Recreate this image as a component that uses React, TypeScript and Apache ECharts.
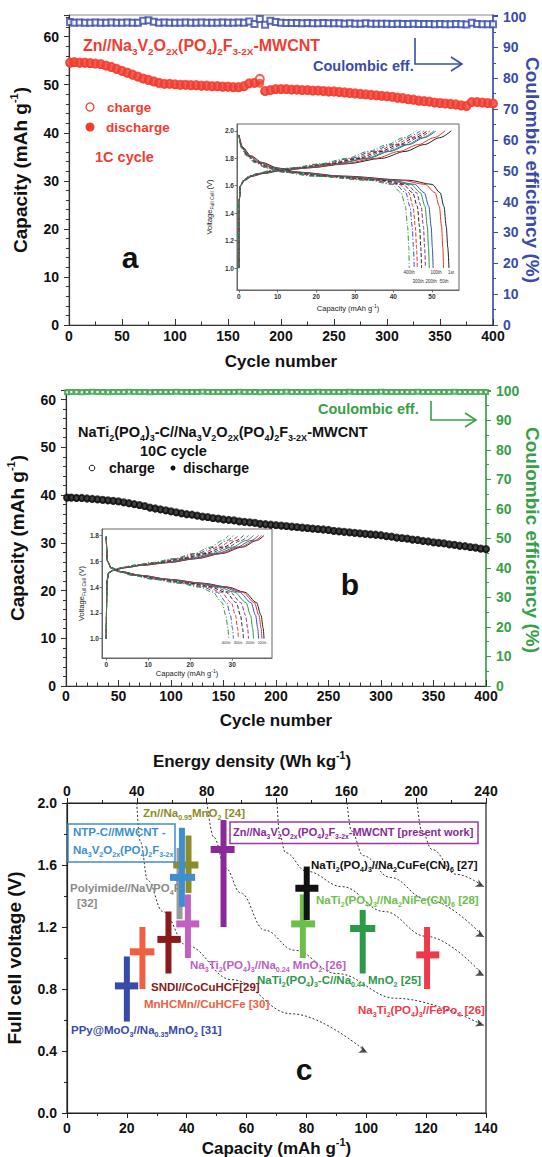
import React, { useEffect, useRef } from 'react';
import * as echarts from 'echarts';

const FONT = "'Liberation Sans', Arial, Helvetica, sans-serif";
const RED = '#f23c30';
const BLUE = '#3a4ca8';
const GREEN = '#38a048';
const AXC = '#333';

// ---------- Panel a & b : cycle numbers ----------
const CYCLES = [1,5,10,15,20,25,30,35,40,45,50,55,60,65,70,75,80,85,90,95,100,105,110,115,120,125,130,135,140,145,150,155,160,165,170,175,180,185,190,195,200,205,210,215,220,225,230,235,240,245,250,255,260,265,270,275,280,285,290,295,300,305,310,315,320,325,330,335,340,345,350,355,360,365,370,375,380,385,390,395,400];

const A_CHARGE = [54.6,54.7,54.6,54.6,54.5,54.4,54.3,54.0,53.7,53.3,
  52.9,52.5,52.1,51.7,51.3,51.0,50.7,50.4,50.2,50.2,
  50.1,50.0,50.0,49.9,49.9,49.8,49.8,49.7,49.7,49.6,
  49.6,49.5,49.5,49.7,50.3,50.4,51.2,48.7,48.9,49.1,
  49.1,49.1,49.0,49.0,48.9,48.9,48.8,48.8,48.7,48.6,
  48.6,48.5,48.4,48.3,48.2,48.1,48.0,47.9,47.8,47.7,
  47.6,47.5,47.3,47.2,47.0,46.9,46.7,46.6,46.5,46.3,
  46.2,46.1,46.0,45.9,45.7,45.6,46.4,46.4,46.3,46.2,
  46.1];
const A_DISCHARGE = [54.5,54.6,54.5,54.5,54.4,54.3,54.2,53.9,53.6,53.2,
  52.8,52.4,52.0,51.6,51.2,50.9,50.6,50.3,50.1,50.1,
  50.0,49.9,49.9,49.8,49.8,49.7,49.7,49.6,49.6,49.5,
  49.5,49.4,49.4,49.6,50.2,50.3,50.3,48.6,48.8,49.0,
  49.0,49.0,48.9,48.9,48.8,48.8,48.7,48.7,48.6,48.5,
  48.5,48.4,48.3,48.2,48.1,48.0,47.9,47.8,47.7,47.6,
  47.5,47.4,47.2,47.1,46.9,46.8,46.6,46.5,46.4,46.2,
  46.1,46.0,45.9,45.8,45.6,45.5,46.3,46.3,46.2,46.1,
  46.0];
const A_CE = [98.2,98.0,98.1,98.0,98.0,98.1,98.0,98.0,98.1,98.0,
  98.0,98.1,98.0,98.0,98.6,98.8,98.3,98.0,98.1,98.0,
  98.0,98.0,98.1,98.0,98.0,98.1,98.0,98.0,98.0,98.1,
  98.0,98.0,98.1,98.0,98.4,97.6,99.2,97.3,98.6,98.2,
  98.0,97.9,97.9,97.9,97.8,97.9,97.8,97.8,97.9,97.8,
  97.8,97.8,97.7,97.8,97.7,97.7,97.8,97.7,97.7,97.7,
  97.7,97.6,97.7,97.6,97.6,97.7,97.6,97.6,97.6,97.5,
  97.6,97.5,97.5,97.6,97.5,97.4,98.0,97.6,97.5,97.5,
  97.5];

const B_CHARGE = [39.5,39.5,39.4,39.4,39.3,39.2,39.1,39.0,38.9,38.8,
  38.7,38.5,38.3,38.1,37.9,37.7,37.4,37.2,37.0,36.8,
  36.6,36.4,36.2,36.0,35.9,35.7,35.5,35.4,35.2,35.1,
  34.9,34.8,34.7,34.5,34.4,34.3,34.2,34.0,33.9,33.8,
  33.7,33.6,33.5,33.4,33.3,33.2,33.1,33.0,32.9,32.8,
  32.7,32.5,32.4,32.3,32.2,32.1,32.0,31.9,31.8,31.7,
  31.6,31.4,31.3,31.1,31.0,30.9,30.7,30.6,30.4,30.3,
  30.1,30.0,29.9,29.7,29.6,29.4,29.3,29.1,29.0,28.8,
  28.7];
const B_DISCHARGE = [39.4,39.4,39.3,39.3,39.2,39.1,39.0,38.9,38.8,38.7,
  38.6,38.4,38.2,38.0,37.8,37.6,37.3,37.1,36.9,36.7,
  36.5,36.3,36.1,35.9,35.8,35.6,35.4,35.3,35.1,35.0,
  34.8,34.7,34.6,34.4,34.3,34.2,34.1,33.9,33.8,33.7,
  33.6,33.5,33.4,33.3,33.2,33.1,33.0,32.9,32.8,32.7,
  32.6,32.4,32.3,32.2,32.1,32.0,31.9,31.8,31.7,31.6,
  31.5,31.3,31.2,31.0,30.9,30.8,30.6,30.5,30.3,30.2,
  30.0,29.9,29.8,29.6,29.5,29.3,29.2,29.0,28.9,28.7,
  28.6];
const B_CE = [99.5,99.6,99.6,99.5,99.6,99.7,99.6,99.6,99.5,99.6,
  99.6,99.6,99.7,99.6,99.6,99.6,99.5,99.6,99.6,99.6,
  99.6,99.7,99.6,99.6,99.6,99.6,99.7,99.6,99.6,99.6,
  99.6,99.6,99.6,99.7,99.6,99.6,99.6,99.5,99.6,99.6,
  99.6,99.6,99.7,99.6,99.6,99.6,99.6,99.6,99.7,99.6,
  99.6,99.6,99.6,99.6,99.7,99.6,99.6,99.6,99.6,99.6,
  99.7,99.6,99.6,99.6,99.6,99.6,99.6,99.7,99.6,99.6,
  99.6,99.6,99.6,99.6,99.7,99.6,99.6,99.6,99.6,99.6,
  99.6];

// ---------- Insets (capacity reached at each voltage level) ----------
const INSET_COLORS = ['#222','#e8332a','#3050c0','#2a9a3a','#8a2a9a','#222','#e8332a','#3050c0','#2a9a3a'];
const INSET_DASH: any[] = ['solid','solid','solid','solid',[4,2],[4,2],[4,2],[5,2,1,2],[5,2,1,2]];

const VC_A = [1.00,1.50,1.60,1.64,1.67,1.69,1.71,1.73,1.76,1.80,1.85,1.90,1.95,2.00];
const CHG_A = [
  [0,0.1,0.4,1.5,3.5,6.5,11.0,18.0,28.0,37.0,43.0,48.0,52.0,55.0],
  [0,0.1,0.4,1.4,3.3,6.2,10.5,17.5,27.0,35.5,41.5,46.5,50.5,53.4],
  [0,0.1,0.4,1.3,3.2,6.0,10.0,16.5,25.5,33.5,39.0,44.0,48.0,51.0],
  [0,0.1,0.4,1.3,3.1,5.8,9.8,16.0,25.0,33.0,38.5,43.5,47.5,50.5],
  [0,0.1,0.4,1.3,3.0,5.6,9.5,15.5,24.0,32.0,37.5,42.5,46.5,49.5],
  [0,0.1,0.4,1.2,2.9,5.4,9.0,15.0,23.5,31.0,36.5,41.5,45.5,48.8],
  [0,0.1,0.4,1.2,2.8,5.2,8.7,14.5,23.0,30.0,35.5,40.5,44.5,48.0],
  [0,0.1,0.4,1.2,2.7,5.0,8.4,14.0,22.0,29.0,34.5,39.5,43.5,47.0],
  [0,0.1,0.4,1.1,2.6,4.8,8.0,13.5,21.0,28.0,33.5,38.5,42.5,46.0],
];
const VD_A = [1.97,1.88,1.82,1.77,1.73,1.70,1.67,1.64,1.61,1.55,1.45,1.30,1.15,1.00];
const DIS_A = [
  [0,1.0,3.0,6.0,10.0,15.0,27.0,44.0,50.0,52.1,53.1,53.7,54.1,54.4],
  [0,0.9,2.8,5.7,9.5,14.5,26.0,42.0,48.2,50.8,51.9,52.5,52.8,53.0],
  [0,0.8,2.6,5.3,9.0,14.0,25.0,39.5,45.5,48.0,49.2,49.8,50.1,50.3],
  [0,0.8,2.5,5.1,8.8,13.5,24.0,38.5,44.5,47.0,48.2,48.8,49.1,49.3],
  [0,0.7,2.3,4.8,8.3,13.0,23.0,37.5,43.5,46.0,47.2,47.8,48.1,48.3],
  [0,0.7,2.2,4.6,8.0,12.5,22.0,36.5,42.5,45.0,46.2,46.8,47.1,47.3],
  [0,0.6,2.1,4.4,7.7,12.0,21.0,35.5,41.5,44.0,45.1,45.7,46.0,46.2],
  [0,0.6,2.0,4.2,7.4,11.5,20.0,34.5,40.5,43.2,44.3,44.9,45.2,45.4],
  [0,0.5,1.9,4.0,7.0,11.0,19.0,33.5,39.5,42.0,43.1,43.7,44.0,44.1],
];
const VC_B = [1.00,1.45,1.51,1.53,1.55,1.57,1.59,1.62,1.66,1.71,1.76,1.80];
const CHG_B = [
  [0,0.2,0.6,1.8,4.5,9.0,15.0,21.5,27.5,32.5,35.8,37.6],
  [0,0.2,0.6,1.8,4.4,8.8,14.6,21.0,27.0,32.0,35.3,37.1],
  [0,0.2,0.6,1.7,4.3,8.5,14.0,20.3,26.3,31.2,34.5,36.3],
  [0,0.2,0.6,1.7,4.1,8.2,13.5,19.5,25.3,30.1,33.3,35.1],
  [0,0.2,0.6,1.6,4.0,7.9,13.0,18.8,24.4,29.0,32.1,33.9],
  [0,0.2,0.6,1.6,3.8,7.6,12.5,18.0,23.5,28.0,31.0,32.7],
  [0,0.2,0.5,1.5,3.7,7.3,12.0,17.3,22.6,26.9,29.8,31.5],
  [0,0.2,0.5,1.5,3.5,7.0,11.5,16.6,21.7,25.9,28.7,30.3],
  [0,0.2,0.5,1.4,3.4,6.7,11.0,16.0,20.9,24.9,27.6,29.2],
];
const VD_B = [1.79,1.60,1.55,1.52,1.49,1.46,1.43,1.40,1.36,1.28,1.18,1.08,1.00];
const DIS_B = [
  [0,0.3,1.2,3.5,8.5,15.0,23.0,29.0,33.0,35.8,36.9,37.4,37.6],
  [0,0.3,1.2,3.4,8.3,14.7,22.5,28.5,32.5,35.3,36.4,36.9,37.1],
  [0,0.3,1.2,3.3,8.0,14.2,21.8,27.8,31.7,34.5,35.6,36.1,36.3],
  [0,0.3,1.1,3.2,7.7,13.6,21.0,26.8,30.6,33.3,34.4,34.9,35.1],
  [0,0.3,1.1,3.1,7.4,13.1,20.2,25.8,29.5,32.1,33.2,33.7,33.9],
  [0,0.3,1.1,3.0,7.1,12.6,19.5,24.9,28.5,31.0,32.0,32.5,32.7],
  [0,0.3,1.0,2.9,6.8,12.1,18.8,24.0,27.4,29.8,30.8,31.3,31.5],
  [0,0.3,1.0,2.8,6.5,11.6,18.0,23.0,26.4,28.7,29.6,30.1,30.3],
  [0,0.3,1.0,2.7,6.3,11.1,17.3,22.1,25.4,27.6,28.5,29.0,29.2],
];
const INSET_A_XTICKS = [0,10,20,30,40,50];
const INSET_A_YTICKS = [1.0,1.2,1.4,1.6,1.8,2.0];
const INSET_B_XTICKS = [0,10,20,30];
const INSET_B_YTICKS = [1.0,1.2,1.4,1.6,1.8];

// ---------- Panel c ----------
// rows: [capacity, voltage, capLow, capHigh, vLow, vHigh]
const CROSS_DATA = [
  [37.6,1.50,36.5,38.7,1.25,1.71],
  [40.6,1.60,35.5,43.9,1.42,1.79],
  [38.4,1.52,34.4,42.8,1.33,1.84],
  [40.4,1.22,36.5,44.2,1.00,1.41],
  [52.3,1.70,48.0,56.0,1.20,1.89],
  [20.0,0.82,16.0,23.8,0.59,1.01],
  [25.2,1.04,21.0,29.2,0.80,1.20],
  [33.9,1.12,30.2,38.0,0.90,1.30],
  [78.8,1.22,74.9,82.9,1.00,1.41],
  [80.1,1.45,76.3,84.0,1.245,1.59],
  [98.8,1.19,94.6,103.0,0.90,1.31],
  [120.3,1.02,116.7,124.4,0.80,1.20],
];
const CROSS_COLORS = ['#9a9a9a','#8c8c2a','#3d8fd0','#c060c0','#8a2a9a','#3a4aa8','#f06040','#8b1a1a','#6cc04a','#111111','#2a9a48','#ee3a48'];
const ISO_40 = [[23.3,2.0],[24.5,1.75],[27,1.5],[32,1.3],[40,1.08],[55,0.86],[75,0.64],[100.3,0.39]];
const ISO_80 = [[46.8,2.0],[49,1.78],[53,1.58],[58,1.42],[66,1.18],[76,1.05],[90,0.9],[110,0.74],[139.3,0.565]];
const ISO_120 = [[70.2,2.0],[71,1.8],[73,1.68],[80,1.56],[92,1.46],[106,1.3],[120,1.14],[139.3,0.885]];
const ISO_160 = [[93.6,2.0],[95,1.82],[99,1.66],[108,1.52],[120,1.38],[139.3,1.135]];
const ISO_200 = [[117,2.0],[118.5,1.82],[122,1.7],[130,1.54],[139.3,1.46]];
const ISO_ARROWS = [[100.3,0.39,-116],[139.3,0.565,-109],[139.3,0.885,-117],[139.3,1.135,-121],[139.3,1.46,-116]];

const C_LABELS: [number, number, string, string, number][] = [
  [143, 813, 'Zn//Na_{0.95}MnO_{2} [24]', '#8c8c2a', 11.5],
  [73, 832, 'NTP-C//MWCNT -', '#3d8fd0', 11.5],
  [73, 850, 'Na_{3}V_{2}O_{2x}(PO_{4})_{2}F_{3-2x}', '#3d8fd0', 11.5],
  [70, 888, 'Polyimide//NaVPO_{4}F', '#8a8a8a', 11.5],
  [77, 903, '[32]', '#8a8a8a', 11.5],
  [233, 832, 'Zn//Na_{3}V_{2}O_{2x}(PO_{4})_{2}F_{3-2x}-MWCNT [present work]', '#8a2a9a', 11],
  [311, 865, 'NaTi_{2}(PO_{4})_{3}//Na_{2}CuFe(CN)_{6} [27]', '#111111', 11.5],
  [316, 900, 'NaTi_{2}(PO_{4})_{3}//Na_{2}NiFe(CN)_{6} [28]', '#6cc04a', 11.5],
  [190, 965, 'Na_{3}Ti_{2}(PO_{4})_{3}//Na_{0.24} MnO_{2} [26]', '#c060c0', 11.5],
  [257, 980, 'NaTi_{2}(PO_{4})_{3}-C//Na_{0.44} MnO_{2} [25]', '#2a9a48', 11.5],
  [151, 987, 'SNDI//CoCuHCF[29]', '#8b1a1a', 11.5],
  [144, 1004, 'MnHCMn//CuHCFe [30]', '#f06040', 11.5],
  [358, 1010, 'Na_{3}Ti_{2}(PO_{4})_{3}//FePo_{4} [26]', '#ee3a48', 11.5],
  [71, 1030, 'PPy@MoO_{3}//Na_{0.35}MnO_{2} [31]', '#3a4aa8', 11.5],
];

function toRich(m: string) {
  return m.replace(/_\{([^}]*)\}/g, '{s|$1}').replace(/\^\{([^}]*)\}/g, '{u|$1}');
}

function rt(x: number, y: number, markup: string, fs: number, color: string, align = 'left', weight = 'bold', rotation = 0) {
  const sub = Math.round(fs * 0.62 * 10) / 10;
  const lh = Math.round(fs * 1.35);
  const base = { fontFamily: FONT, fontWeight: weight };
  return {
    type: 'text', x, y, rotation, z: 50, silent: true,
    style: {
      text: toRich(markup), ...base, fontSize: fs, fill: color, lineHeight: lh,
      align, verticalAlign: 'middle',
      rich: {
        s: { ...base, fontSize: sub, fill: color, verticalAlign: 'bottom', lineHeight: lh },
        u: { ...base, fontSize: sub, fill: color, verticalAlign: 'top', lineHeight: lh },
      },
    },
  };
}

const lbl = (extra: any = {}) => ({ fontFamily: FONT, fontWeight: 'bold', fontSize: 14, color: '#111', ...extra });
const nameStyle = (extra: any = {}) => ({
  fontFamily: FONT, fontWeight: 'bold', fontSize: 19, color: '#111', lineHeight: 24,
  rich: { u: { fontFamily: FONT, fontWeight: 'bold', fontSize: 11, verticalAlign: 'top', lineHeight: 24 } },
  ...extra,
});
const aLine = (c: string, w = 1.2) => ({ show: true, onZero: false, lineStyle: { color: c, width: w } });
const noSplit = { splitLine: { show: false }, minorSplitLine: { show: false } };

function insetAxisX(grid: number, min: number, max: number, ticks: number[], gap: number) {
  return {
    type: 'value', gridIndex: grid, min, max, ...noSplit,
    axisLine: aLine('#555', 0.8),
    axisTick: { length: 2.5, customValues: ticks, lineStyle: { color: '#555', width: 0.8 } },
    axisLabel: { fontFamily: FONT, fontWeight: 'bold', fontSize: 6.5, color: '#333', margin: 3, customValues: ticks },
    name: toRich('Capacity (mAh g^{-1})'), nameLocation: 'middle', nameGap: gap,
    nameTextStyle: { fontFamily: FONT, fontSize: 7.5, color: '#222', lineHeight: 10,
      rich: { u: { fontFamily: FONT, fontSize: 5, verticalAlign: 'top', lineHeight: 10 } } },
  };
}
function insetAxisY(grid: number, min: number, max: number, ticks: number[], gap: number) {
  return {
    type: 'value', gridIndex: grid, min, max, ...noSplit,
    axisLine: aLine('#555', 0.8),
    axisTick: { length: 2.5, customValues: ticks, lineStyle: { color: '#555', width: 0.8 } },
    axisLabel: { fontFamily: FONT, fontWeight: 'bold', fontSize: 6.5, color: '#333', margin: 3, customValues: ticks,
      formatter: (v: number) => v.toFixed(1) },
    name: toRich('Voltage_{Full Cell} (V)'), nameLocation: 'middle', nameGap: gap,
    nameTextStyle: { fontFamily: FONT, fontSize: 7.5, color: '#222', lineHeight: 10,
      rich: { s: { fontFamily: FONT, fontSize: 5, verticalAlign: 'bottom', lineHeight: 10 } } },
  };
}

function insetSeries(caps: number[][], volts: number[], xi: number, yi: number) {
  return caps.map((row, i) => ({
    type: 'line', xAxisIndex: xi, yAxisIndex: yi, silent: true, z: 4,
    data: row.map((c, k) => [c, volts[k]]),
    symbol: 'none', showSymbol: false, smooth: 0.3, smoothMonotone: 'x',
    lineStyle: { color: INSET_COLORS[i], width: 1, type: INSET_DASH[i] },
  }));
}

function buildOption(): any {
  const zip = (ys: number[]) => CYCLES.map((c, i) => [c, ys[i]]);
  const g = { show: true, containLabel: false, outerBoundsMode: 'none' };
  const grids = [
    { ...g, left: 69, top: 15, width: 424, height: 310, borderColor: '#888', borderWidth: 1 },
    { ...g, left: 237, top: 124, width: 222, height: 166, borderColor: '#666', borderWidth: 1, backgroundColor: '#fff' },
    { ...g, left: 66, top: 390, width: 420, height: 296, borderColor: '#888', borderWidth: 1 },
    { ...g, left: 102, top: 529, width: 170, height: 129, borderColor: '#666', borderWidth: 1, backgroundColor: '#fff' },
    { ...g, left: 67, top: 803, width: 419, height: 310, borderColor: '#222', borderWidth: 1.2 },
  ];

  const xAxis = [
    { type: 'value', gridIndex: 0, min: 0, max: 400, interval: 50, ...noSplit, axisLine: aLine(AXC),
      axisTick: { inside: true, length: 6, lineStyle: { color: AXC } },
      minorTick: { show: true, splitNumber: 2, length: 3.5, lineStyle: { color: AXC } },
      axisLabel: lbl({ margin: 4 }), name: 'Cycle number', nameLocation: 'middle', nameGap: 24,
      nameTextStyle: nameStyle({ fontSize: 17 }) },
    insetAxisX(1, -0.5, 57, INSET_A_XTICKS, 13),
    { type: 'value', gridIndex: 2, min: 0, max: 400, interval: 50, ...noSplit, axisLine: aLine(AXC),
      axisTick: { inside: true, length: 6, lineStyle: { color: AXC } },
      minorTick: { show: true, splitNumber: 5, length: 3.5, lineStyle: { color: AXC } },
      axisLabel: lbl({ margin: 3 }), name: 'Cycle number', nameLocation: 'middle', nameGap: 22,
      nameTextStyle: nameStyle({ fontSize: 17 }) },
    insetAxisX(3, -1, 39.5, INSET_B_XTICKS, 10),
    { type: 'value', gridIndex: 4, min: 0, max: 140, interval: 20, ...noSplit, axisLine: aLine('#222'),
      axisTick: { length: 5, lineStyle: { color: '#222' } },
      minorTick: { show: true, splitNumber: 2, length: 3, lineStyle: { color: '#222' } },
      axisLabel: lbl({ margin: 8 }), name: toRich('Capacity (mAh g^{-1})'), nameLocation: 'middle', nameGap: 23,
      nameTextStyle: nameStyle({ fontSize: 17 }) },
    { type: 'value', gridIndex: 4, position: 'top', min: 0, max: 240, interval: 40, ...noSplit, axisLine: aLine('#222'),
      axisTick: { length: 5, lineStyle: { color: '#222' } },
      minorTick: { show: true, splitNumber: 2, length: 3, lineStyle: { color: '#222' } },
      axisLabel: lbl({ margin: 5 }) },
  ];

  const yAxis = [
    { type: 'value', gridIndex: 0, min: 0, max: 64.5, interval: 10, ...noSplit, axisLine: aLine(AXC),
      axisTick: { length: 5, lineStyle: { color: AXC } },
      minorTick: { show: true, splitNumber: 5, length: 3, lineStyle: { color: AXC } },
      axisLabel: lbl({ margin: 10, showMaxLabel: false }),
      name: toRich('Capacity (mAh g^{-1})'), nameLocation: 'middle', nameGap: 31, nameTextStyle: nameStyle() },
    { type: 'value', gridIndex: 0, position: 'right', min: 0, max: 100.5, interval: 10, ...noSplit, axisLine: aLine(BLUE, 1.5),
      axisTick: { length: 5, lineStyle: { color: BLUE } },
      minorTick: { show: true, splitNumber: 2, length: 3, lineStyle: { color: BLUE } },
      axisLabel: lbl({ margin: 10, color: BLUE, showMaxLabel: false }) },
    insetAxisY(1, 0.84, 2.05, INSET_A_YTICKS, 23),
    { type: 'value', gridIndex: 2, min: 0, max: 62, interval: 10, ...noSplit, axisLine: aLine(AXC),
      axisTick: { length: 5, lineStyle: { color: AXC } },
      minorTick: { show: true, splitNumber: 5, length: 3, lineStyle: { color: AXC } },
      axisLabel: lbl({ margin: 10, showMaxLabel: false }),
      name: toRich('Capacity (mAh g^{-1})'), nameLocation: 'middle', nameGap: 28, nameTextStyle: nameStyle() },
    { type: 'value', gridIndex: 2, position: 'right', min: 0, max: 100.3, interval: 10, ...noSplit, axisLine: aLine(GREEN, 1.5),
      axisTick: { length: 5, lineStyle: { color: GREEN } },
      minorTick: { show: true, splitNumber: 2, length: 3, lineStyle: { color: GREEN } },
      axisLabel: lbl({ margin: 10, color: GREEN, showMaxLabel: false }) },
    insetAxisY(3, 0.85, 1.85, INSET_B_YTICKS, 14),
    { type: 'value', gridIndex: 4, min: 0, max: 2, interval: 0.4, ...noSplit, axisLine: aLine('#222'),
      axisTick: { length: 5, lineStyle: { color: '#222' } },
      minorTick: { show: true, splitNumber: 2, length: 3, lineStyle: { color: '#222' } },
      axisLabel: lbl({ margin: 10, formatter: (v: number) => v.toFixed(1) }),
      name: 'Full cell voltage (V)', nameLocation: 'middle', nameGap: 32, nameTextStyle: nameStyle() },
  ];

  const series: any[] = [
    { type: 'scatter', xAxisIndex: 0, yAxisIndex: 0, data: zip(A_CHARGE), symbol: 'emptyCircle', symbolSize: 8,
      itemStyle: { color: RED, borderWidth: 1.2 }, z: 3 },
    { type: 'scatter', xAxisIndex: 0, yAxisIndex: 0, data: zip(A_DISCHARGE), symbol: 'circle', symbolSize: 9,
      itemStyle: { color: RED }, z: 4 },
    { type: 'scatter', xAxisIndex: 0, yAxisIndex: 1, data: zip(A_CE), symbol: 'emptyRect', symbolSize: 6,
      itemStyle: { color: BLUE, borderWidth: 1 }, z: 3 },
    ...insetSeries(CHG_A, VC_A, 1, 2),
    ...insetSeries(DIS_A, VD_A, 1, 2),
    { type: 'scatter', xAxisIndex: 2, yAxisIndex: 3, data: zip(B_CHARGE), symbol: 'emptyCircle', symbolSize: 6,
      itemStyle: { color: '#111', borderWidth: 1 }, z: 3 },
    { type: 'scatter', xAxisIndex: 2, yAxisIndex: 3, data: zip(B_DISCHARGE), symbol: 'circle', symbolSize: 7,
      itemStyle: { color: '#111' }, z: 4 },
    { type: 'scatter', xAxisIndex: 2, yAxisIndex: 4, data: zip(B_CE), symbol: 'emptyRect', symbolSize: 4,
      itemStyle: { color: GREEN, borderWidth: 1 }, z: 3 },
    ...insetSeries(CHG_B, VC_B, 3, 5),
    ...insetSeries(DIS_B, VD_B, 3, 5),
  ];
  [ISO_40, ISO_80, ISO_120, ISO_160, ISO_200].forEach((d) => {
    series.push({ type: 'line', xAxisIndex: 4, yAxisIndex: 6, data: d, symbol: 'none', smooth: 0.4, smoothMonotone: 'x',
      lineStyle: { color: '#333', width: 1, type: [2, 2] }, z: 2, silent: true });
  });
  series.push({ type: 'scatter', xAxisIndex: 4, yAxisIndex: 6, symbol: 'arrow', symbolSize: [6, 8], z: 2,
    data: ISO_ARROWS.map((a) => ({ value: [a[0], a[1]], symbolRotate: a[2] })), itemStyle: { color: '#222' } });
  series.push({
    type: 'custom', xAxisIndex: 4, yAxisIndex: 6, z: 5, data: CROSS_DATA,
    encode: { x: [0, 2, 3], y: [1, 4, 5] },
    renderItem: (params: any, api: any) => {
      const c = api.coord([api.value(0), api.value(1)]);
      const l = api.coord([api.value(2), api.value(1)]);
      const r = api.coord([api.value(3), api.value(1)]);
      const t = api.coord([api.value(0), api.value(5)]);
      const b = api.coord([api.value(0), api.value(4)]);
      const color = CROSS_COLORS[params.dataIndex];
      return {
        type: 'group',
        children: [
          { type: 'rect', shape: { x: t[0] - 3, y: t[1], width: 6, height: b[1] - t[1] }, style: { fill: color } },
          { type: 'rect', shape: { x: l[0], y: c[1] - 3.5, width: r[0] - l[0], height: 7 }, style: { fill: color } },
        ],
      };
    },
  });

  const arrowLine = (pts: number[][], color: string) => ({ type: 'polyline', z: 50, silent: true, shape: { points: pts },
    style: { stroke: color, lineWidth: 1.6, fill: 'none' } });

  const graphics: any[] = [
    // panel a
    rt(83, 45, 'Zn//Na_{3}V_{2}O_{2X}(PO_{4})_{2}F_{3-2X}-MWCNT', 16, RED),
    rt(313, 66, 'Coulombic eff.', 14.5, BLUE),
    arrowLine([[415, 38], [415, 64], [462, 64]], BLUE),
    arrowLine([[451, 57], [462, 64], [451, 71]], BLUE),
    { type: 'circle', z: 50, shape: { cx: 90, cy: 107, r: 4 }, style: { stroke: RED, fill: '#fff', lineWidth: 1.3 } },
    rt(107, 107, 'charge', 13.5, RED),
    { type: 'circle', z: 50, shape: { cx: 90, cy: 127, r: 4.5 }, style: { fill: RED } },
    rt(106, 127, 'discharge', 13.5, RED),
    rt(95, 157, '1C cycle', 14.5, RED),
    rt(130, 257, 'a', 30, '#111', 'center'),
    rt(532, 170, 'Coulombic efficiency (%)', 19, BLUE, 'center', 'bold', -Math.PI / 2),
    rt(409, 272, '400th', 4.5, '#333', 'center', 'normal'),
    rt(436, 272, '100th', 4.5, '#333', 'center', 'normal'),
    rt(451, 272, '1st', 4.5, '#333', 'center', 'normal'),
    rt(418, 281, '300th', 4.5, '#333', 'center', 'normal'),
    rt(431, 281, '200th', 4.5, '#333', 'center', 'normal'),
    rt(444, 281, '50th', 4.5, '#333', 'center', 'normal'),
    // panel b
    rt(78, 432, 'NaTi_{2}(PO_{4})_{3}-C//Na_{3}V_{2}O_{2X}(PO_{4})_{2}F_{3-2X}-MWCNT', 14.5, '#111'),
    rt(140, 451, '10C cycle', 14.5, '#111'),
    { type: 'circle', z: 50, shape: { cx: 92, cy: 468, r: 2.8 }, style: { stroke: '#111', fill: '#fff', lineWidth: 1 } },
    rt(109, 468, 'charge', 14, '#111'),
    { type: 'circle', z: 50, shape: { cx: 173, cy: 468, r: 2.5 }, style: { fill: '#111' } },
    rt(183, 468, 'discharge', 14, '#111'),
    rt(318, 409, 'Coulombic eff.', 14.5, GREEN),
    arrowLine([[431, 401], [431, 420], [476, 420]], GREEN),
    arrowLine([[465, 413], [476, 420], [465, 427]], GREEN),
    rt(350, 584, 'b', 30, '#111', 'center'),
    rt(532, 540, 'Coulombic efficiency (%)', 19, GREEN, 'center', 'bold', -Math.PI / 2),
    rt(226, 643, '400th', 3.5, '#333', 'center', 'normal'),
    rt(238, 643, '300th', 3.5, '#333', 'center', 'normal'),
    rt(250, 643, '200th', 3.5, '#333', 'center', 'normal'),
    rt(262, 643, '100th', 3.5, '#333', 'center', 'normal'),
    // panel c
    rt(252, 761, 'Energy density (Wh kg^{-1})', 17, '#111', 'center'),
    rt(304, 1069, 'c', 30, '#111', 'center'),
    { type: 'rect', z: 50, silent: true, shape: { x: 68, y: 824, width: 107, height: 38 }, style: { stroke: '#3d8fd0', lineWidth: 1.5, fill: 'none' } },
    { type: 'rect', z: 50, silent: true, shape: { x: 230, y: 822, width: 248, height: 21.5 }, style: { stroke: '#9a3aa0', lineWidth: 1.5, fill: 'none' } },
    ...C_LABELS.map(([x, y, m, col, fs]) => rt(x, y, m, fs, col)),
  ];

  return {
    animation: false,
    backgroundColor: '#fff',
    textStyle: { fontFamily: FONT },
    grid: grids,
    xAxis,
    yAxis,
    series,
    graphic: { elements: graphics },
  };
}

export default function App() {
  const ref = useRef<HTMLDivElement>(null);
  useEffect(() => {
    if (!ref.current) return;
    const chart = echarts.init(ref.current, undefined, { renderer: 'svg' });
    chart.setOption(buildOption());
    return () => chart.dispose();
  }, []);
  return <div ref={ref} style={{ position: 'absolute', left: 0, top: 0, width: 542, height: 1157, background: '#fff' }} />;
}
